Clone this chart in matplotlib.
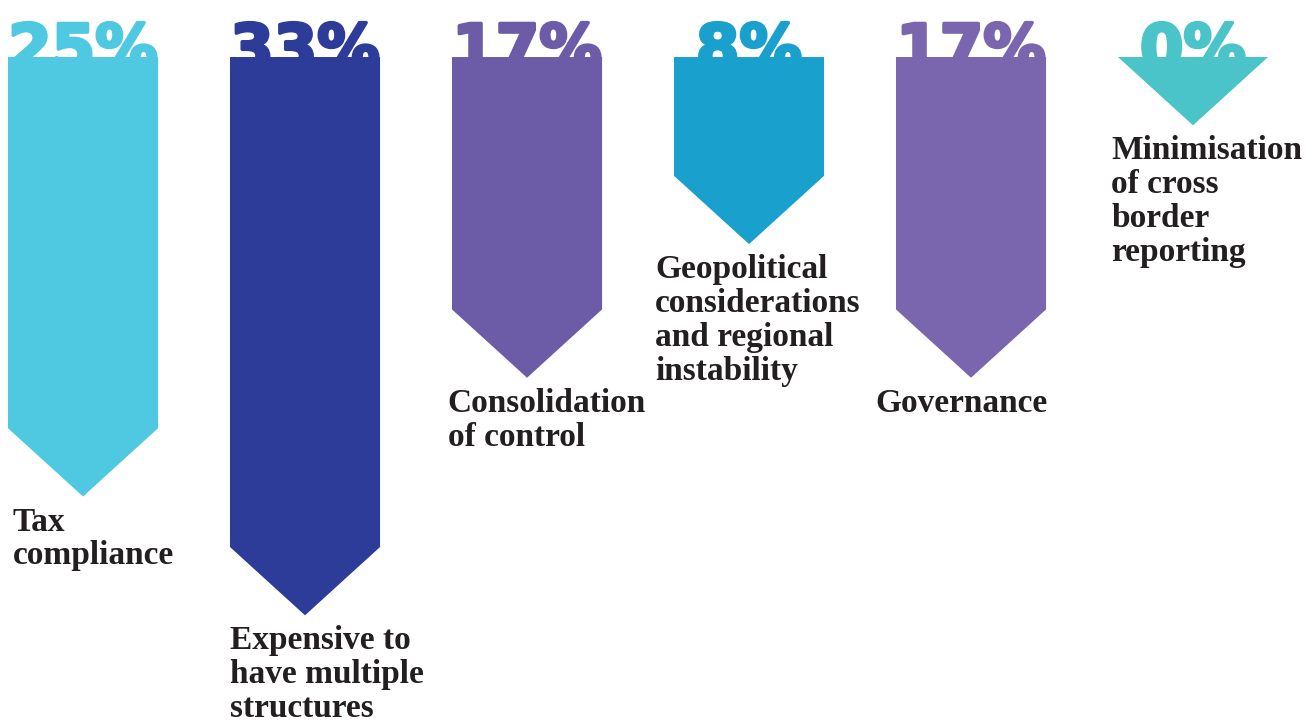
import matplotlib
matplotlib.use("Agg")
import matplotlib.pyplot as plt
import matplotlib.patheffects as pe
from matplotlib.patches import Polygon

categories = [
    "Tax\ncompliance",
    "Expensive to\nhave multiple\nstructures",
    "Consolidation\nof control",
    "Geopolitical\nconsiderations\nand regional\ninstability",
    "Governance",
    "Minimisation\nof cross\nborder\nreporting",
]
shares = [25, 33, 17, 8, 17, 0]
colors = ["#4FC8E2", "#2C3C98", "#6C5CA8", "#1AA0CD", "#7A66AE", "#4AC3C9"]

BAR_W = 0.676      # bar width in category units
TIP = 4.6          # depth of the arrow point, in percentage units
label_shift = [0.02, 0.0, -0.02, -0.085, -0.095, -0.03]

fig = plt.figure(figsize=(13.14, 7.24), dpi=100)
ax = fig.add_axes([0, 0, 1, 1])
ax.set_xlim(-0.374, 5.545)
ax.set_ylim(-44.92, 3.84)
ax.axis("off")

for i, (name, v, c) in enumerate(zip(categories, shares, colors)):
    left, right = i - BAR_W / 2, i + BAR_W / 2
    arrow = Polygon([(left, 0), (right, 0), (right, -v), (i, -v - TIP), (left, -v)],
                    closed=True, facecolor=c, edgecolor="none", zorder=3)
    ax.add_patch(arrow)

    # big value sitting on top of the arrow, lower part hidden by the bar
    ax.annotate(f"{v}%", (i, 0), xytext=(0, -12), textcoords="offset pixels",
                ha="center", va="baseline", fontsize=45, fontweight="heavy",
                family=["DejaVu Sans"], color=c, zorder=2,
                path_effects=[pe.withStroke(linewidth=2.5, foreground=c)])

    ax.annotate(name, (left + label_shift[i], -v - TIP), xytext=(0, -10),
                textcoords="offset pixels", ha="left", va="top",
                fontsize=24, fontweight="bold", family=["Liberation Serif"],
                color="#231F20", linespacing=1.12, zorder=4)

fig.savefig("out.png", dpi=100)
